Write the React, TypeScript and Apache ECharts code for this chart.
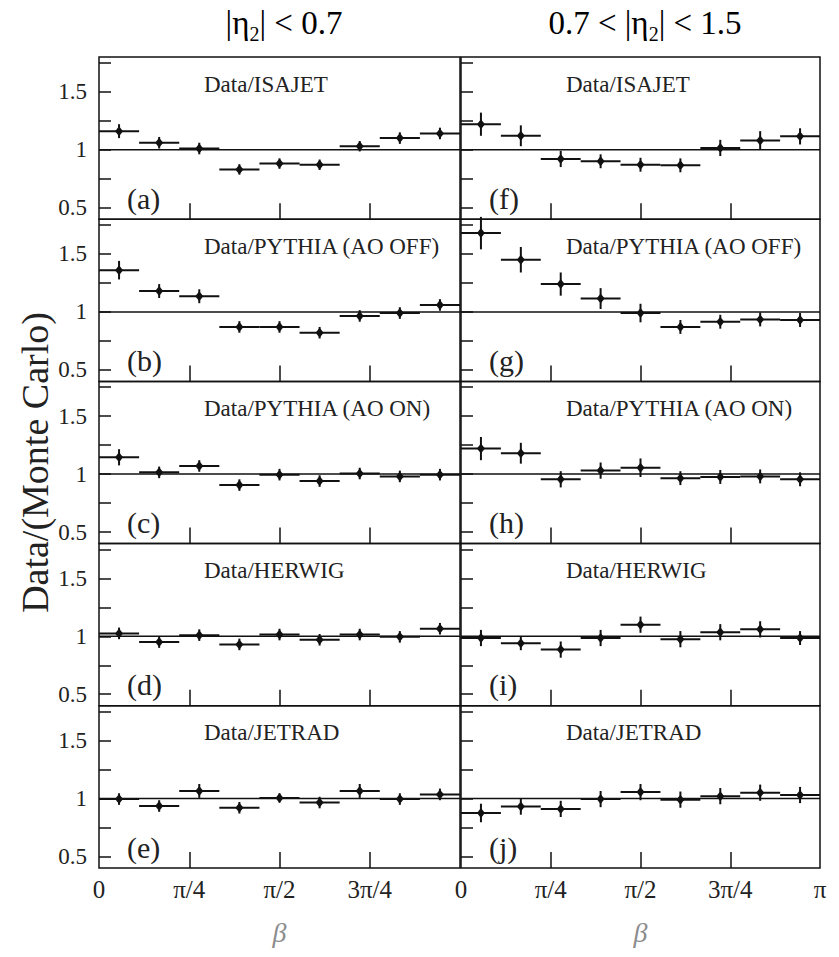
import React, { useEffect, useRef } from 'react';
import * as echarts from 'echarts';

const PI = Math.PI;
const N_BINS = 9;
// bin edges of beta in [0, pi]
const BIN_EDGES: number[] = Array.from({ length: N_BINS + 1 }, (_, i) => (i * PI) / N_BINS);

const PANEL_TITLES = ['Data/ISAJET', 'Data/PYTHIA (AO OFF)', 'Data/PYTHIA (AO ON)', 'Data/HERWIG', 'Data/JETRAD'];
const PANEL_LETTERS = ['(a)', '(b)', '(c)', '(d)', '(e)', '(f)', '(g)', '(h)', '(i)', '(j)'];
const X_TICK_LABELS = ['0', 'π/4', 'π/2', '3π/4', 'π'];
const Y_TICK_LABELS = [0.5, 1, 1.5];
const Y_TICKS = [0.5, 0.75, 1, 1.25, 1.5, 1.75];

// |eta2| < 0.7
const ratioA = [1.16, 1.06, 1.01, 0.83, 0.88, 0.87, 1.03, 1.10, 1.14];
const errA = [0.06, 0.05, 0.05, 0.045, 0.045, 0.045, 0.045, 0.05, 0.05];
const ratioB = [1.36, 1.18, 1.135, 0.87, 0.87, 0.82, 0.965, 0.99, 1.06];
const errB = [0.08, 0.06, 0.06, 0.05, 0.05, 0.05, 0.05, 0.05, 0.05];
const ratioC = [1.145, 1.015, 1.07, 0.905, 0.995, 0.94, 1.005, 0.98, 0.995];
const errC = [0.07, 0.05, 0.05, 0.05, 0.05, 0.05, 0.05, 0.05, 0.05];
const ratioD = [1.025, 0.95, 1.01, 0.93, 1.015, 0.97, 1.015, 0.995, 1.065];
const errD = [0.05, 0.05, 0.05, 0.05, 0.05, 0.05, 0.05, 0.05, 0.05];
const ratioE = [0.995, 0.935, 1.065, 0.92, 1.005, 0.965, 1.065, 0.995, 1.035];
const errE = [0.05, 0.05, 0.06, 0.05, 0.04, 0.05, 0.06, 0.05, 0.05];
// 0.7 < |eta2| < 1.5
const ratioF = [1.22, 1.12, 0.92, 0.90, 0.87, 0.865, 1.015, 1.08, 1.115];
const errF = [0.10, 0.09, 0.07, 0.06, 0.06, 0.06, 0.07, 0.08, 0.07];
const ratioG = [1.68, 1.45, 1.24, 1.115, 0.99, 0.87, 0.915, 0.935, 0.93];
const errG = [0.14, 0.11, 0.10, 0.09, 0.08, 0.06, 0.06, 0.06, 0.06];
const ratioH = [1.22, 1.18, 0.955, 1.03, 1.055, 0.965, 0.975, 0.98, 0.955];
const errH = [0.10, 0.09, 0.07, 0.07, 0.08, 0.06, 0.06, 0.06, 0.06];
const ratioI = [0.985, 0.94, 0.885, 0.985, 1.10, 0.975, 1.035, 1.06, 0.985];
const errI = [0.07, 0.06, 0.07, 0.07, 0.07, 0.07, 0.07, 0.07, 0.06];
const ratioJ = [0.875, 0.93, 0.91, 0.995, 1.055, 0.99, 1.02, 1.05, 1.03];
const errJ = [0.08, 0.07, 0.07, 0.07, 0.07, 0.07, 0.07, 0.07, 0.07];

const RATIOS = [ratioA, ratioB, ratioC, ratioD, ratioE, ratioF, ratioG, ratioH, ratioI, ratioJ];
const ERRORS = [errA, errB, errC, errD, errE, errF, errG, errH, errI, errJ];

const FONT = 'Liberation Serif, serif';
const COL_LEFT = [99, 461];
const COL_WIDTH = [361, 359];
const TOP = 57;
const ROW_H = 162.2;
const Y_MIN = 0.4;
const Y_MAX = 1.8;

function renderErr(params: any, api: any) {
  const x0 = api.value(0);
  const x1 = api.value(1);
  const y = api.value(2);
  const e = api.value(3);
  const xc = (x0 + x1) / 2;
  const pL = api.coord([x0, y]);
  const pR = api.coord([x1, y]);
  const pC = api.coord([xc, y]);
  const pT = api.coord([xc, y + e]);
  const pB = api.coord([xc, y - e]);
  return {
    type: 'group',
    children: [
      { type: 'line', shape: { x1: pL[0], y1: pL[1], x2: pR[0], y2: pR[1] }, style: { stroke: '#111', lineWidth: 2 } },
      { type: 'line', shape: { x1: pT[0], y1: pT[1], x2: pB[0], y2: pB[1] }, style: { stroke: '#111', lineWidth: 2 } },
      {
        type: 'polygon',
        shape: { points: [[pC[0], pC[1] - 5], [pC[0] + 4, pC[1]], [pC[0], pC[1] + 5], [pC[0] - 4, pC[1]]] },
        style: { fill: '#111' },
      },
    ],
  };
}

export default function App() {
  const ref = useRef<HTMLDivElement>(null);
  useEffect(() => {
    if (!ref.current) return;
    const chart = echarts.init(ref.current, undefined, { renderer: 'svg' });
    const grids: any[] = [];
    const xAxes: any[] = [];
    const yAxes: any[] = [];
    const series: any[] = [];
    const graphics: any[] = [];
    for (let col = 0; col < 2; col++) {
      for (let row = 0; row < 5; row++) {
        const idx = col * 5 + row;
        const top = TOP + row * ROW_H;
        grids.push({
          left: COL_LEFT[col], top, width: COL_WIDTH[col], height: ROW_H,
          show: true, borderColor: '#111', borderWidth: 1.5, backgroundColor: 'transparent',
        });
        const bottom = row === 4;
        const xLabelVals = col === 0 ? [0, PI / 4, PI / 2, (3 * PI) / 4] : [0, PI / 4, PI / 2, (3 * PI) / 4, PI];
        xAxes.push({
          type: 'value', gridIndex: idx, min: 0, max: PI,
          axisLine: { show: false },
          splitLine: { show: false },
          axisTick: { show: true, inside: true, length: 16, lineStyle: { color: '#111', width: 1.5 }, customValues: [PI / 4, PI / 2, (3 * PI) / 4] },
          axisLabel: {
            show: bottom, customValues: xLabelVals, margin: 9,
            fontFamily: FONT, fontSize: 25, color: '#222',
            formatter: (v: number) => X_TICK_LABELS[Math.round(v / (PI / 4))],
          },
          name: bottom ? 'β' : '',
          nameLocation: 'middle', nameGap: 50,
          nameTextStyle: { fontFamily: FONT, fontStyle: 'italic', fontSize: 28, color: '#8c8c8c' },
        });
        yAxes.push({
          type: 'value', gridIndex: idx, min: Y_MIN, max: Y_MAX,
          axisLine: { show: false },
          splitLine: { show: false },
          axisTick: { show: true, inside: true, length: 12, lineStyle: { color: '#111', width: 1.5 }, customValues: Y_TICKS },
          axisLabel: {
            show: col === 0, customValues: Y_TICK_LABELS, margin: 12,
            fontFamily: FONT, fontSize: 23, color: '#222',
          },
          name: idx === 2 ? 'Data/(Monte Carlo)' : '',
          nameLocation: 'middle', nameGap: 44,
          nameTextStyle: { fontFamily: FONT, fontSize: 38, color: '#222' },
        });
        series.push({
          type: 'line', xAxisIndex: idx, yAxisIndex: idx, silent: true, symbol: 'none',
          data: [[0, 1], [PI, 1]], lineStyle: { color: '#111', width: 1.5 }, z: 2,
        });
        const vals = RATIOS[idx];
        const errs = ERRORS[idx];
        series.push({
          type: 'custom', xAxisIndex: idx, yAxisIndex: idx, silent: true, z: 3,
          renderItem: renderErr,
          encode: { x: [0, 1], y: 2 },
          data: vals.map((v, i) => [BIN_EDGES[i], BIN_EDGES[i + 1], v, errs[i]]),
        });
        graphics.push({
          type: 'text', x: COL_LEFT[col] + 105, y: top + 27,
          style: { text: PANEL_TITLES[row], font: `23px ${FONT}`, fill: '#222', textAlign: 'left', textVerticalAlign: 'middle' },
        });
        graphics.push({
          type: 'text', x: COL_LEFT[col] + 28, y: top + ROW_H - 21,
          style: { text: PANEL_LETTERS[idx], font: `30px ${FONT}`, fill: '#222', textAlign: 'left', textVerticalAlign: 'middle' },
        });
      }
    }
    const headerRich = {
      n: { fontFamily: FONT, fontSize: 33, color: '#222', lineHeight: 38 },
      s: { fontFamily: FONT, fontSize: 20, color: '#222', lineHeight: 38, padding: [21, 0, 0, 0] },
    };
    graphics.push({
      type: 'text', x: 284, y: 23,
      style: { text: '{n||η}{s|2}{n|| < 0.7}', rich: headerRich, textAlign: 'center', textVerticalAlign: 'middle' },
    });
    graphics.push({
      type: 'text', x: 645, y: 23,
      style: { text: '{n|0.7 < |η}{s|2}{n|| < 1.5}', rich: headerRich, textAlign: 'center', textVerticalAlign: 'middle' },
    });
    chart.setOption({
      animation: false,
      backgroundColor: '#fff',
      grid: grids,
      xAxis: xAxes,
      yAxis: yAxes,
      series,
      graphic: graphics,
    });
    return () => chart.dispose();
  }, []);
  return <div ref={ref} style={{ position: 'fixed', left: 0, top: 0, width: 839, height: 957 }} />;
}
